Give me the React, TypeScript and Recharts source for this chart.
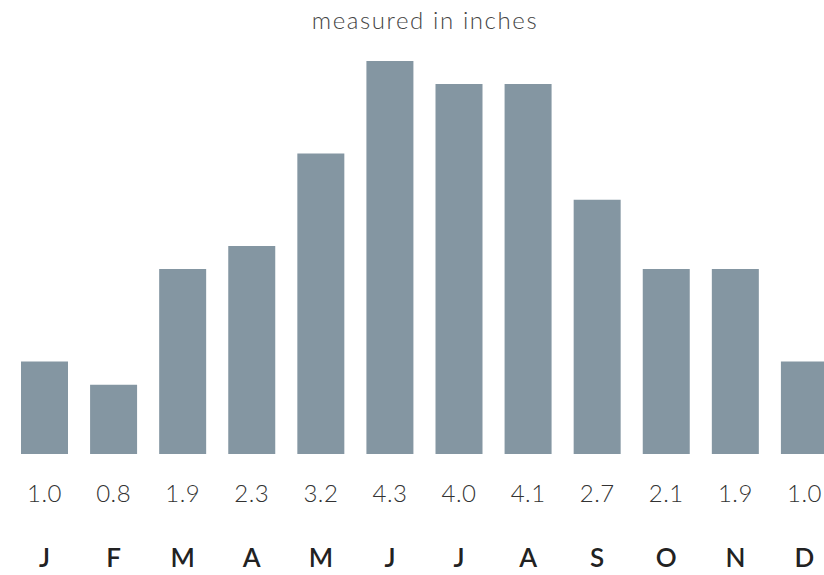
import React from 'react';
import { BarChart, Bar, XAxis, YAxis } from 'recharts';

// month initials, printed rainfall labels, and bar heights (rounded to quarter inches as drawn)
const months = ['J', 'F', 'M', 'A', 'M', 'J', 'J', 'A', 'S', 'O', 'N', 'D'];
const labels = ['1.0', '0.8', '1.9', '2.3', '3.2', '4.3', '4.0', '4.1', '2.7', '2.1', '1.9', '1.0'];
const heights = [1.0, 0.75, 2.0, 2.25, 3.25, 4.25, 4.0, 4.0, 2.75, 2.0, 2.0, 1.0];

const data = months.map((m, i) => ({ key: i, month: m, label: labels[i], inches: heights[i] }));

const FONT = 'Lato, "Open Sans", sans-serif';

// tick y already sits ~8px under the axis line, so offsets are measured from there
const MonthTick = (props: any) => {
  const { x, y, payload } = props;
  const row = data[payload.value];
  return (
    <g>
      <text
        x={x}
        y={y + 30}
        textAnchor="middle"
        dominantBaseline="central"
        fontFamily={FONT}
        fontWeight={300}
        fontSize={24}
        letterSpacing={0.5}
        fill="#333"
      >
        {row.label}
      </text>
      <text
        x={x}
        y={y + 95}
        textAnchor="middle"
        dominantBaseline="central"
        fontFamily={FONT}
        fontWeight={600}
        fontSize={26}
        fill="#222"
      >
        {row.month}
      </text>
    </g>
  );
};

const App: React.FC = () => {
  return (
    <div
      style={{
        position: 'absolute',
        left: 0,
        top: 0,
        width: 824,
        height: 575,
        overflow: 'hidden',
        background: '#fff',
      }}
    >
      <div
        style={{
          position: 'absolute',
          left: 0,
          top: 4,
          width: 850,
          textAlign: 'center',
          fontFamily: FONT,
          fontWeight: 300,
          fontSize: 24,
          letterSpacing: 1.6,
          lineHeight: '32px',
          color: '#444',
        }}
      >
        measured in inches
      </div>
      <BarChart
        width={849}
        height={575}
        data={data}
        margin={{ top: 61, right: 10, bottom: 0, left: 10 }}
        barSize={47}
      >
        <XAxis
          dataKey="key"
          axisLine={false}
          tickLine={false}
          height={121}
          interval={0}
          tick={<MonthTick />}
        />
        <YAxis hide domain={[0, 4.25]} />
        <Bar dataKey="inches" fill="#8496A2" isAnimationActive={false} />
      </BarChart>
    </div>
  );
};

export default App;
